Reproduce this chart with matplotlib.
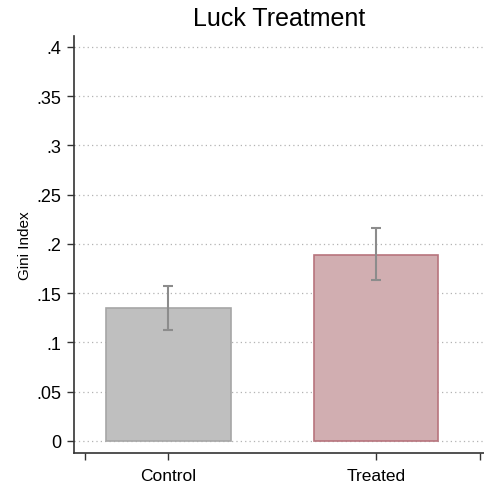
import numpy as np
import matplotlib.pyplot as plt

plt.rcParams['font.family'] = ['Liberation Sans', 'DejaVu Sans']

# group means of the Gini index with 95% CI bounds
groups = ['Control', 'Treated']
means = [0.135, 0.189]
ci_low = [0.113, 0.163]
ci_high = [0.157, 0.216]
yticks = [0, 0.05, 0.1, 0.15, 0.2, 0.25, 0.3, 0.35, 0.4]
ytick_labels = ['0', '.05', '.1', '.15', '.2', '.25', '.3', '.35', '.4']

fill = ['#bfbfbf', '#d1aeb1']
edge = ['#a6a6a6', '#b7747d']

fig = plt.figure(figsize=(4.85, 4.85), dpi=100)
ax = fig.add_axes([0.1526, 0.0639, 0.8474, 0.8598])

x = np.arange(1, len(groups) + 1)
ax.bar(x, means, width=0.6, color=fill, edgecolor=edge, linewidth=1.2, zorder=2)

means = np.array(means)
yerr = [means - np.array(ci_low), np.array(ci_high) - means]
ax.errorbar(x, means, yerr=yerr, fmt='none', ecolor='#8c8c8c',
            elinewidth=1.5, capsize=3.5, capthick=1.5, zorder=3)

ax.set_xlim(0.545, 2.525)
ax.set_ylim(-0.0122, 0.411)

ax.set_yticks(yticks)
ax.set_yticklabels(ytick_labels, fontsize=13)
ax.set_xticks([0.6, 1, 2, 2.5])
ax.set_xticklabels(['', groups[0], groups[1], ''], fontsize=12.5)
ax.tick_params(axis='both', direction='out', length=5, width=1, color='#333333', pad=4)
ax.tick_params(axis='x', pad=6)

ax.grid(axis='y', linestyle=(0, (1, 2.5)), color='#b3b3b3', linewidth=0.9, zorder=0)
ax.set_axisbelow(True)

for side in ['top', 'right']:
    ax.spines[side].set_visible(False)
for side in ['left', 'bottom']:
    ax.spines[side].set_color('#333333')
    ax.spines[side].set_linewidth(1.2)

ax.set_ylabel('Gini Index', fontsize=11, labelpad=3)
ax.set_title('Luck Treatment', fontsize=18, pad=8)

fig.savefig('out.png', dpi=100)
